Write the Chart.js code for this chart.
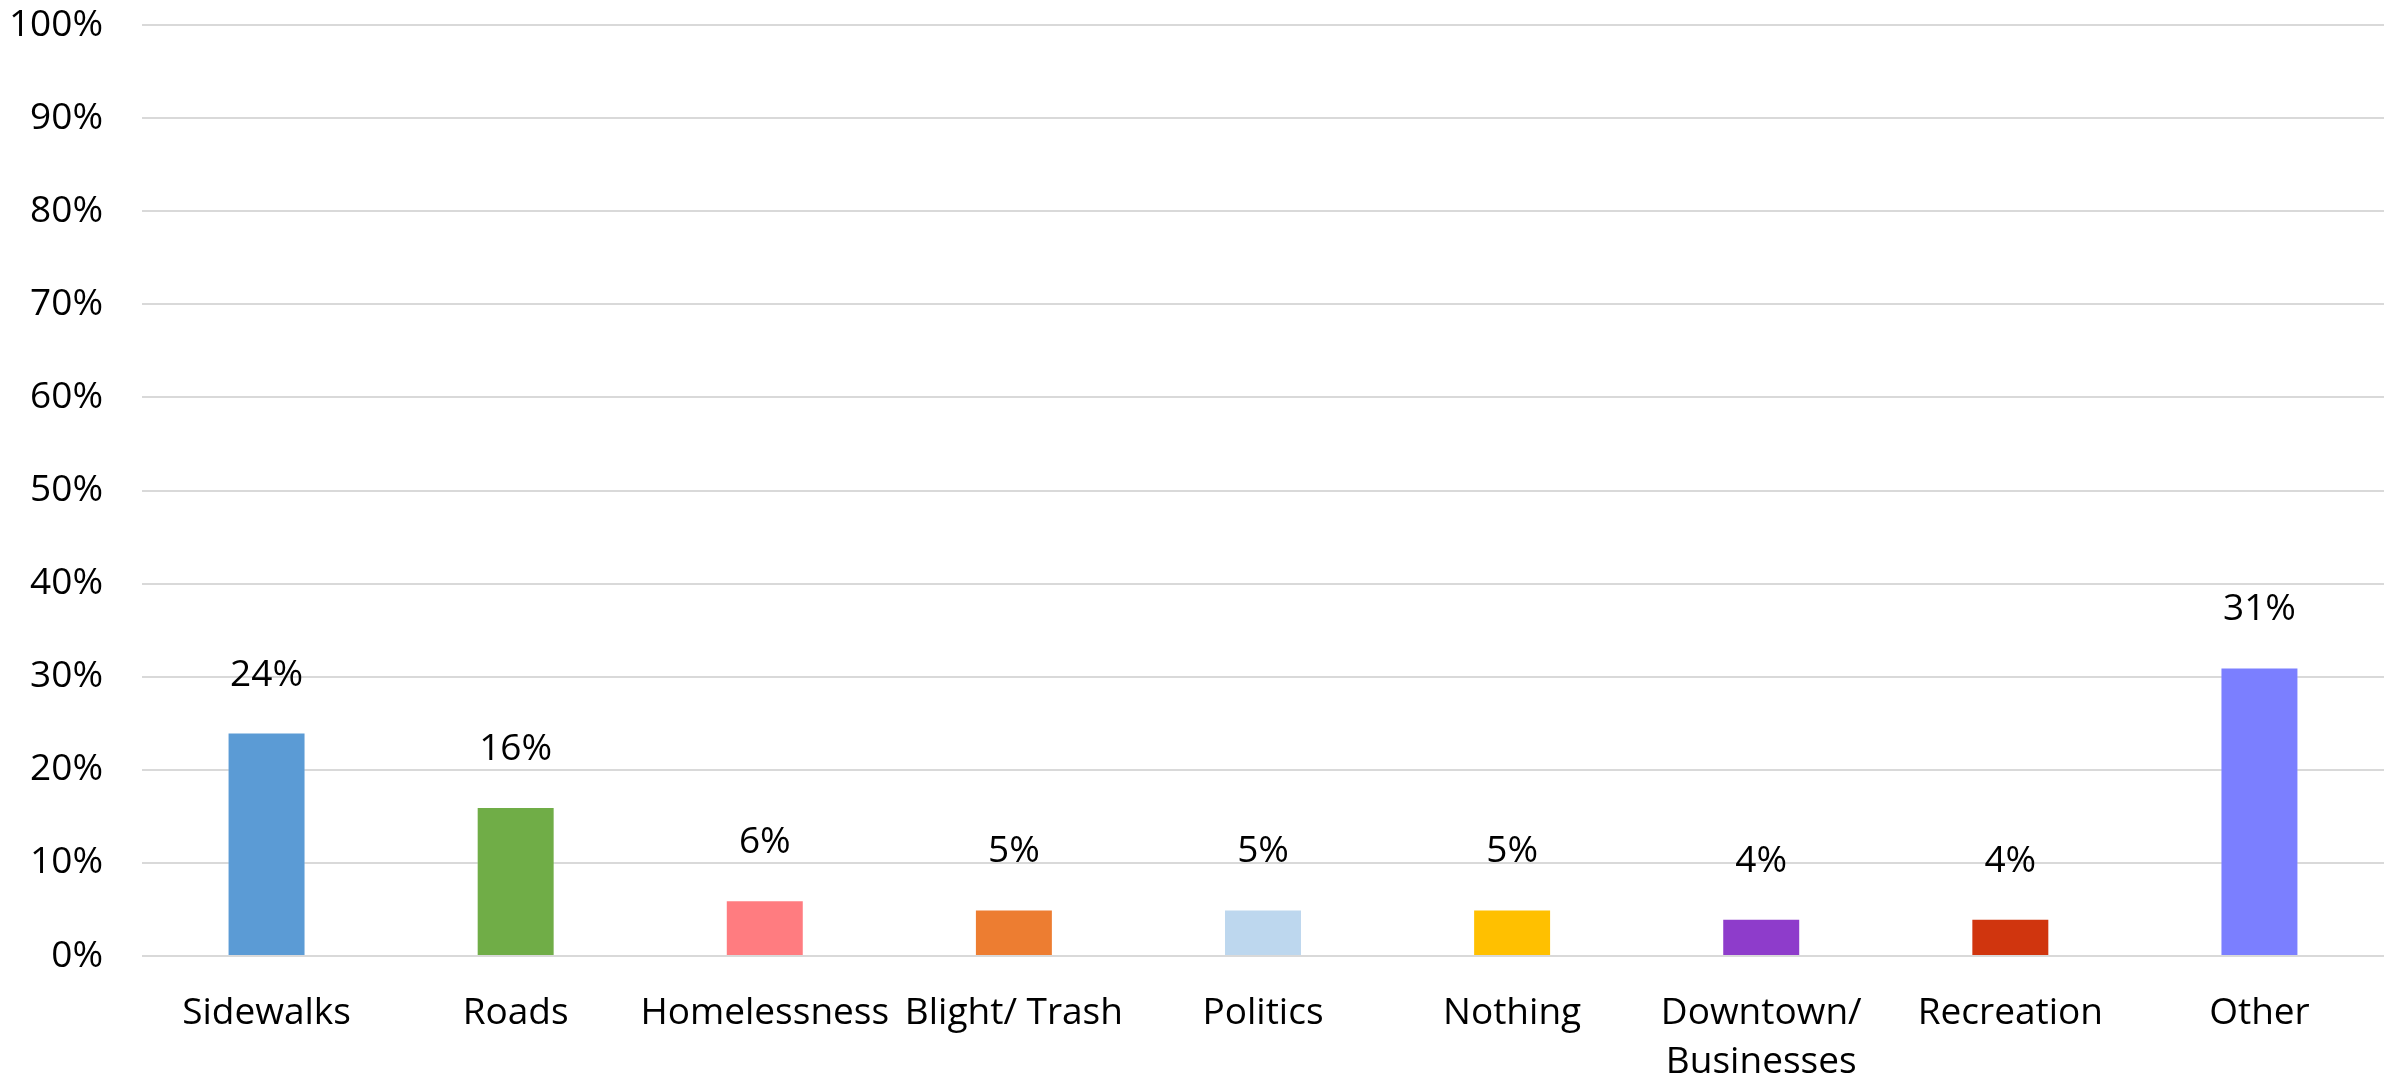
<!DOCTYPE html>
<html>
<head>
<meta charset="utf-8">
<script src="https://cdn.jsdelivr.net/npm/chart.js@4.4.1/dist/chart.umd.min.js"></script>
<style>
html,body{margin:0;padding:0;background:#fff;}
#wrap{width:2394px;height:1081px;position:relative;}
</style>
</head>
<body>
<div id="wrap"><canvas id="c" width="2394" height="1081"></canvas></div>
<script>
const categories = ["Sidewalks", "Roads", "Homelessness", "Blight/ Trash", "Politics", "Nothing", ["Downtown/", "Businesses"], "Recreation", "Other"];
const values = [24, 16, 6, 5, 5, 5, 4, 4, 31];
const barColors = ["#5B9BD5", "#70AD47", "#FF7C80", "#ED7D31", "#BDD7EE", "#FFC000", "#8E3CCB", "#D0350E", "#7B7FFF"];
const yTicks = [0, 10, 20, 30, 40, 50, 60, 70, 80, 90, 100];

const FONT = "'Open Sans', 'Noto Sans', sans-serif";
const FSIZE = 37;

const labelPlugin = {
  id: 'valueLabels',
  afterDatasetsDraw(chart) {
    const ctx = chart.ctx;
    const meta = chart.getDatasetMeta(0);
    ctx.save();
    ctx.font = FSIZE + "px " + FONT;
    ctx.fillStyle = "#000";
    ctx.textAlign = "center";
    ctx.textBaseline = "alphabetic";
    meta.data.forEach((bar, i) => {
      ctx.fillText(values[i] + "%", bar.x, bar.y - 47);
    });
    ctx.restore();
  }
};

new Chart(document.getElementById('c'), {
  type: 'bar',
  data: {
    labels: categories,
    datasets: [{
      data: values,
      backgroundColor: barColors,
      borderColor: "rgba(255,255,255,0.35)",
      borderWidth: 1,
      barPercentage: 0.313,
      categoryPercentage: 1.0
    }]
  },
  options: {
    responsive: false,
    animation: false,
    devicePixelRatio: 1,
    layout: { padding: { top: 25, right: 10, left: 0, bottom: 0 } },
    plugins: { legend: { display: false }, tooltip: { enabled: false } },
    scales: {
      x: {
        grid: { display: false, drawTicks: false },
        border: { display: false },
        ticks: {
          color: "#000",
          font: { family: FONT, size: FSIZE, lineHeight: 1.35 },
          padding: 32,
          maxRotation: 0,
          autoSkip: false
        },
        afterFit(scale) { scale.height = 125; scale.paddingLeft = 0; scale.paddingRight = 0; }
      },
      y: {
        min: 0, max: 100,
        afterBuildTicks(scale) { scale.ticks = yTicks.map(v => ({ value: v })); },
        grid: { color: "#D9D9D9", lineWidth: 2, drawTicks: false },
        border: { display: false },
        ticks: {
          color: "#000",
          font: { family: FONT, size: FSIZE },
          padding: 39,
          callback: v => v + "%"
        },
        afterFit(scale) { scale.width = 142; scale.paddingTop = 0; scale.paddingBottom = 0; }
      }
    }
  },
  plugins: [labelPlugin]
});
</script>
</body>
</html>
